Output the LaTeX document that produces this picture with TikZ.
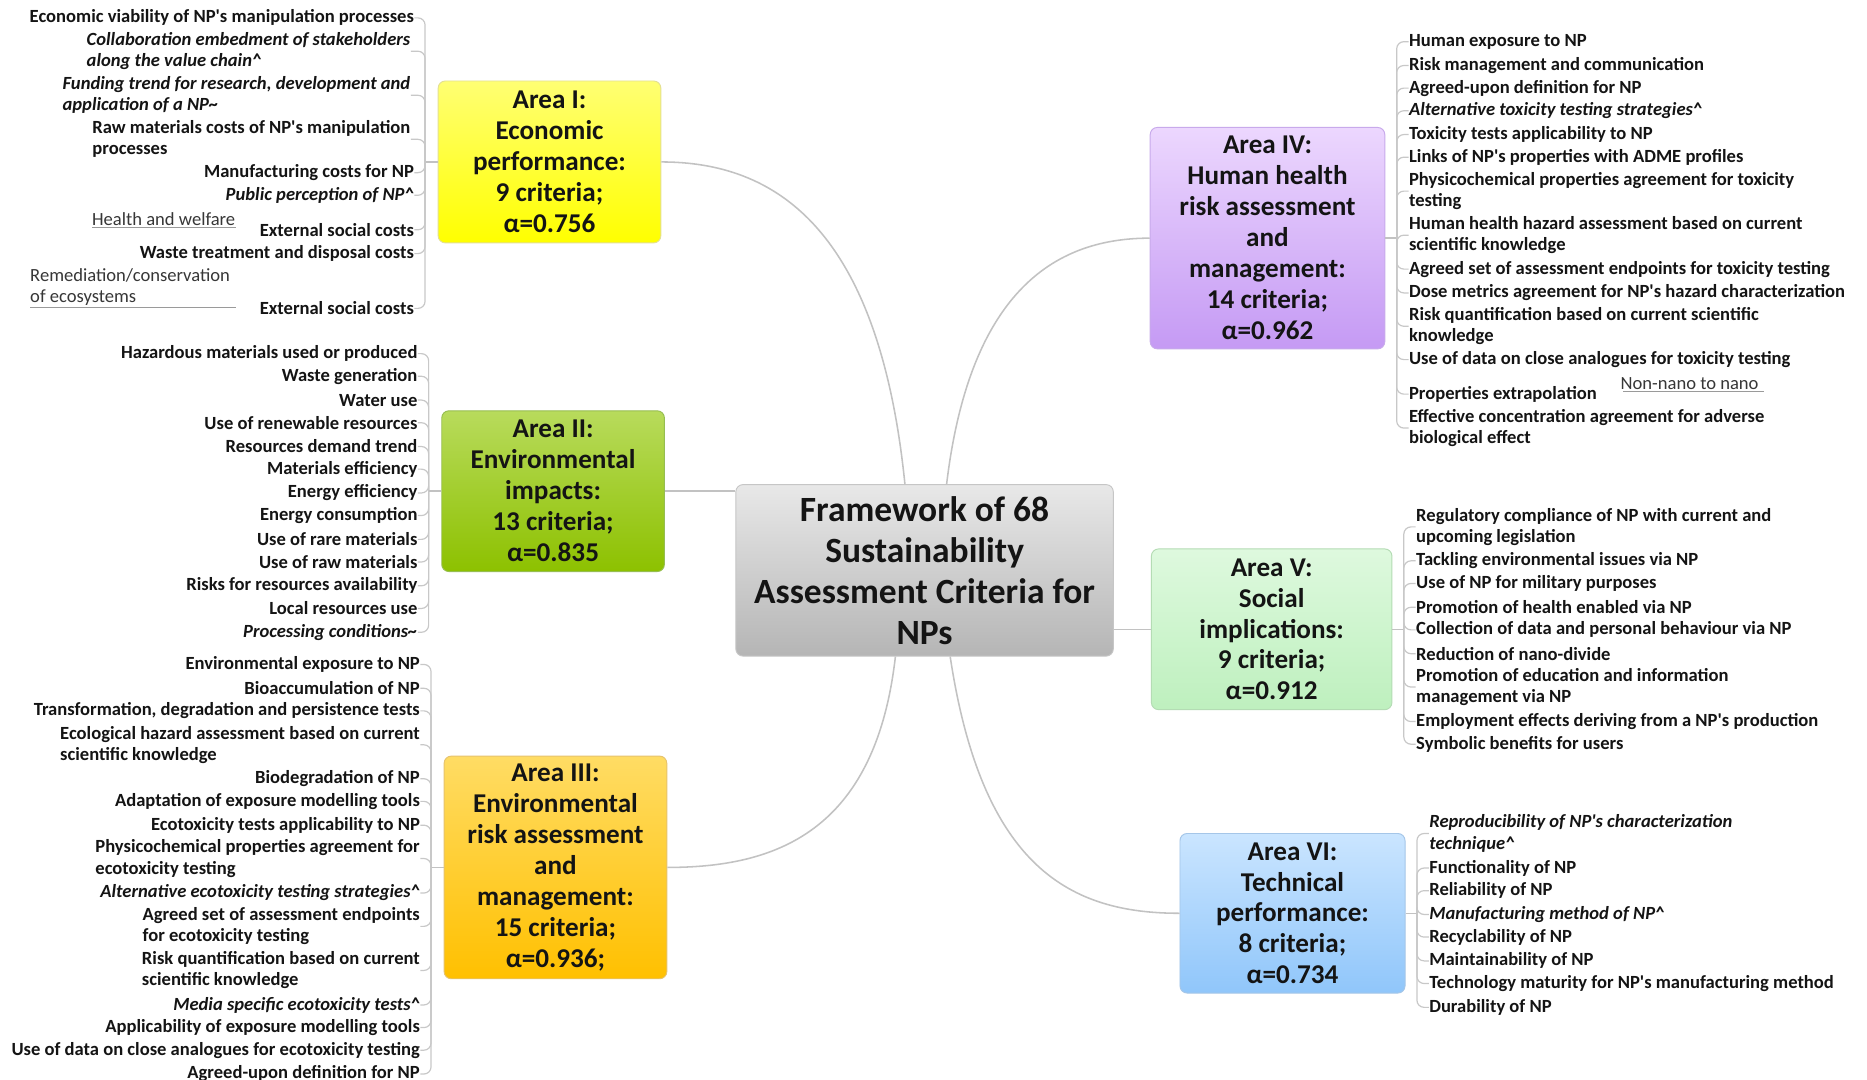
\documentclass[tikz,border=0pt]{standalone}
\usepackage{fontspec}
\setmainfont{Carlito}
\definecolor{txt}{HTML}{141414}
\definecolor{linkgray}{HTML}{C2C2C2}
\definecolor{spinegray}{HTML}{C8C8C8}
\definecolor{notegray}{HTML}{9A9A9A}
\newcommand{\crt}{\textasciicircum}
\newcommand{\tld}{\textasciitilde}
\newcommand{\ap}{\textquotesingle}
\begin{document}
\begin{tikzpicture}[x=0.5pt,y=-0.5pt,
  crit/.style={font=\fontsize{7.8}{8.9}\selectfont\bfseries, text=txt, inner xsep=0pt, inner ysep=0.5pt, align=left, yshift=-1pt},
  critL/.style={crit, anchor=east},
  critR/.style={crit, anchor=west},
  note/.style={font=\fontsize{7.8}{8.9}\selectfont, text=txt!85, inner xsep=0pt, inner ysep=0.6pt, align=left},
  area/.style={rounded corners=3pt, line width=0.4pt, align=center, inner sep=0pt, text=txt,
    font=\fontsize{11.4}{13}\selectfont\bfseries},
  hub/.style={rounded corners=3pt, line width=0.4pt, align=center, inner sep=0pt, text=txt,
    font=\fontsize{14.9}{17.2}\selectfont\bfseries},
  link/.style={draw=linkgray, line width=0.65pt},
  spine/.style={draw=spinegray, line width=0.5pt, rounded corners=3pt},
  under/.style={draw=notegray, line width=0.45pt}
]
\useasboundingbox[fill=white] (0,0) rectangle (1568,907);

% ---- central topic and the six areas
\node[hub, draw=gray!45, top color=gray!18, bottom color=gray!58,
  minimum width=158.5pt, minimum height=72pt] (c) at (776.5,479)
  {Framework of 68\\Sustainability\\Assessment Criteria for\\NPs};

\node[area, draw=yellow!60!gray!60, top color=yellow!55, bottom color=yellow,
  minimum width=93.5pt, minimum height=68pt] (a1) at (461.5,136)
  {Area I:\\Economic\\performance:\\9 criteria;\\α=0.756};
\node[area, draw={rgb,255:red,150;green,190;blue,80}, top color={rgb,255:red,184;green,219;blue,92},
  bottom color={rgb,255:red,141;green,193;blue,0},
  minimum width=93.5pt, minimum height=67.5pt] (a2) at (464.5,412.5)
  {Area II:\\Environmental\\impacts:\\13 criteria;\\α=0.835};
\node[area, draw={rgb,255:red,230;green,195;blue,110}, top color={rgb,255:red,255;green,220;blue,100},
  bottom color={rgb,255:red,255;green,192;blue,0},
  minimum width=93.5pt, minimum height=93.5pt] (a3) at (466.5,728.5)
  {Area III:\\Environmental\\risk assessment\\and\\management:\\15 criteria;\\α=0.936;};
\node[area, draw={rgb,255:red,200;green,170;blue,235}, top color={rgb,255:red,236;green,215;blue,254},
  bottom color={rgb,255:red,197;green,154;blue,244},
  minimum width=98.5pt, minimum height=93pt] (a4) at (1064.5,200)
  {Area IV:\\Human health\\risk assessment\\and\\management:\\14 criteria;\\α=0.962};
\node[area, draw={rgb,255:red,180;green,220;blue,180}, top color={rgb,255:red,222;green,249;blue,222},
  bottom color={rgb,255:red,190;green,240;blue,190},
  minimum width=101pt, minimum height=67.5pt] (a5) at (1068,528.5)
  {Area V:\\Social\\implications:\\9 criteria;\\α=0.912};
\node[area, draw={rgb,255:red,165;green,198;blue,232}, top color={rgb,255:red,202;green,229;blue,255},
  bottom color={rgb,255:red,144;green,198;blue,250},
  minimum width=94.5pt, minimum height=67pt] (a6) at (1085.5,767)
  {Area VI:\\Technical\\performance:\\8 criteria;\\α=0.734};

% ---- links from the centre to the areas
\draw[link] (c.north -| 760,0) .. controls (738,190) and (650,136) .. (a1.east);
\draw[link] (c.west |- a2.east) -- (a2.east);
\draw[link] (c.south -| 752,0) .. controls (735,700) and (650,728.5) .. (a3.east);
\draw[link] (c.north -| 795,0) .. controls (815,240) and (890,200) .. (a4.west);
\draw[link] (c.east |- a5.west) -- (a5.west);
\draw[link] (c.south -| 798,0) .. controls (825,730) and (900,767) .. (a6.west);

% ---- Area I criteria
\coordinate (jE) at (357,136);
\node[critL] (e1) at (348,13) {Economic viability of NP\ap s manipulation processes};
\node[critL] (e2) at (345,41) {\textit{Collaboration embedment of stakeholders}\\\textit{along the value chain\crt}};
\node[critL] (e3) at (345,78) {\textit{Funding trend for research, development and}\\\textit{application of a NP\tld}};
\node[critL] (e4) at (345,115) {Raw materials costs of NP\ap s manipulation\\processes};
\node[critL] (e5) at (348,143) {Manufacturing costs for NP};
\node[critL] (e6) at (348,162) {\textit{Public perception of NP\crt}};
\node[critL] (e7) at (348,191) {External social costs};
\node[critL] (e8) at (348,211) {Waste treatment and disposal costs};
\node[critL] (e9) at (348,257) {External social costs};
\node[note, anchor=south west] (hw) at (77,191) {Health and welfare};
\node[note, anchor=south west] (rem) at (25,258) {Remediation/conservation\\of ecosystems};
\draw[under, shorten <=10] (e7.west |- hw.south) -- (hw.south west);
\draw[under, shorten <=10] (e9.west |- rem.south) -- (rem.south west);
\draw[link] (a1.west) -- (jE);
\foreach \n in {1,...,9} \draw[spine] (jE) |- (e\n.east);

% ---- Area II criteria
\coordinate (jV) at (360,412.5);
\foreach \n/\y/\t in {
  1/295/{Hazardous materials used or produced},
  2/314/{Waste generation},
  3/334/{Water use},
  4/353/{Use of renewable resources},
  5/373/{Resources demand trend},
  6/392/{Materials efficiency},
  7/412/{Energy efficiency},
  8/431/{Energy consumption},
  9/451/{Use of rare materials},
  10/470/{Use of raw materials},
  11/490/{Risks for resources availability},
  12/509/{Local resources use},
  13/529/{\textit{Processing conditions\tld}}}
  \node[critL] (v\n) at (351,\y) {\t};
\draw[link] (a2.west) -- (jV);
\foreach \n in {1,...,13} \draw[spine] (jV) |- (v\n.east);

% ---- Area III criteria
\coordinate (jR) at (362,728.5);
\foreach \n/\y/\t in {
  1/556/{Environmental exposure to NP},
  2/576/{Bioaccumulation of NP},
  3/595/{Transformation, degradation and persistence tests},
  4/623.5/{Ecological hazard assessment based on current\\scientific knowledge},
  5/652/{Biodegradation of NP},
  6/671/{Adaptation of exposure modelling tools},
  7/691/{Ecotoxicity tests applicability to NP},
  8/719/{Physicochemical properties agreement for\\ecotoxicity testing},
  9/748/{\textit{Alternative ecotoxicity testing strategies\crt}},
  10/776/{Agreed set of assessment endpoints\\for ecotoxicity testing},
  11/813/{Risk quantification based on current\\scientific knowledge},
  12/842/{\textit{Media specific ecotoxicity tests\crt}},
  13/861/{Applicability of exposure modelling tools},
  14/880/{Use of data on close analogues for ecotoxicity testing},
  15/900/{Agreed-upon definition for NP}}
  \node[critL] (r\n) at (353,\y) {\t};
\draw[link] (a3.west) -- (jR);
\foreach \n in {1,...,15} \draw[spine] (jR) |- (r\n.east);

% ---- Area IV criteria
\coordinate (jH) at (1173,200);
\foreach \n/\y/\t in {
  1/33/{Human exposure to NP},
  2/53/{Risk management and communication},
  3/72/{Agreed-upon definition for NP},
  4/91/{\textit{Alternative toxicity testing strategies\crt}},
  5/111/{Toxicity tests applicability to NP},
  6/130/{Links of NP\ap s properties with ADME profiles},
  7/158.5/{Physicochemical properties agreement for toxicity\\testing},
  8/195.5/{Human health hazard assessment based on current\\scientific knowledge},
  9/224/{Agreed set of assessment endpoints for toxicity testing},
  10/244/{Dose metrics agreement for NP\ap s hazard characterization},
  11/272/{Risk quantification based on current scientific\\knowledge},
  12/300/{Use of data on close analogues for toxicity testing},
  13/329/{Properties extrapolation},
  14/357.5/{Effective concentration agreement for adverse\\biological effect}}
  \node[critR] (h\n) at (1183,\y) {\t};
\node[note, anchor=south] (nn) at (1419,329) {Non-nano to nano};
\draw[under, shorten <=11] (h13.east |- nn.south) -- (nn.south east) -- ++(4,0);
\draw[link] (a4.east) -- (jH);
\foreach \n in {1,...,14} \draw[spine] (jH) |- (h\n.west);

% ---- Area V criteria
\coordinate (jS) at (1179,528.5);
\foreach \n/\y/\t in {
  1/440.5/{Regulatory compliance of NP with current and\\upcoming legislation},
  2/469/{Tackling environmental issues via NP},
  3/488/{Use of NP for military purposes},
  4/508/{Promotion of health enabled via NP},
  5/527/{Collection of data and personal behaviour via NP},
  6/547/{Reduction of nano-divide},
  7/575/{Promotion of education and information\\management via NP},
  8/604/{Employment effects deriving from a NP\ap s production},
  9/623/{Symbolic benefits for users}}
  \node[critR] (s\n) at (1189,\y) {\t};
\draw[link] (a5.east) -- (jS);
\foreach \n in {1,...,9} \draw[spine] (jS) |- (s\n.west);

% ---- Area VI criteria
\coordinate (jT) at (1190,767);
\foreach \n/\y/\t in {
  1/698/{\textit{Reproducibility of NP\ap s characterization}\\\textit{technique\crt}},
  2/727/{Functionality of NP},
  3/746/{Reliability of NP},
  4/766/{\textit{Manufacturing method of NP\crt}},
  5/785/{Recyclability of NP},
  6/805/{Maintainability of NP},
  7/824/{Technology maturity for NP\ap s manufacturing method},
  8/844/{Durability of NP}}
  \node[critR] (t\n) at (1200,\y) {\t};
\draw[link] (a6.east) -- (jT);
\foreach \n in {1,...,8} \draw[spine] (jT) |- (t\n.west);
\end{tikzpicture}
\end{document}
